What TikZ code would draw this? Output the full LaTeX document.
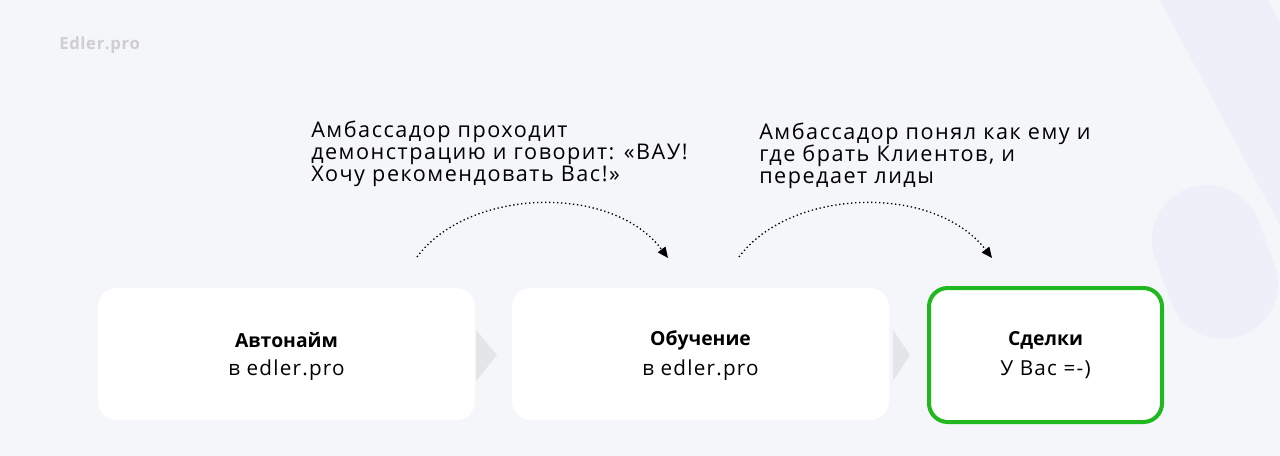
\documentclass[tikz,border=0pt]{standalone}
\usepackage{fontspec}
\setmainfont{Open Sans}
\newfontfamily\notefont[LetterSpace=7]{Open Sans}
\newfontfamily\subfont[LetterSpace=6]{Open Sans}
\newfontfamily\logofont[LetterSpace=4]{Open Sans}
\usetikzlibrary{arrows.meta}
\definecolor{bg}{HTML}{F5F6FA}
\definecolor{deco}{HTML}{EDF0F9}
\definecolor{chev}{HTML}{E4E5E9}
\definecolor{okgreen}{HTML}{1FB81F}
\definecolor{logo}{HTML}{CFCFD2}
\tikzset{
  card/.style={fill=white, rounded corners=14pt, draw=none},
  greencard/.style={fill=white, rounded corners=14pt, draw=okgreen, line width=3pt},
  title/.style={font=\fontsize{14.5}{17}\selectfont\bfseries, align=center},
  sub/.style={font=\subfont\fontsize{15.5}{19}\selectfont, align=center},
  note/.style={font=\notefont\fontsize{16.2}{16.5}\selectfont, align=left, anchor=north west, inner sep=0pt},
  flow/.style={dotted, line width=1pt, -{Triangle[length=8pt,width=7pt]}},
  chevron/.style={fill=chev, draw=none}
}
\begin{document}
\begin{tikzpicture}[x=0.75pt,y=-0.75pt]
\useasboundingbox (0,0) rectangle (1280,456);
\fill[bg] (0,0) rectangle (1280,456);
% decorations
\begin{scope}
\clip (0,0) rectangle (1280,456);
\fill[deco] (1160,0) -- (1268,0) -- (1400,250) -- (1293,250) -- cycle;
\draw[deco, line width=82.5pt, line cap=round] (1207,240) -- (1223,284);
\end{scope}
\node[font=\logofont\fontsize{12.5}{15}\selectfont\bfseries, text=logo, anchor=west, inner sep=0pt] (logo) at (59,45) {Edler.pro};
% cards
\node[card, minimum width=377*0.75pt, minimum height=132*0.75pt] (b1) at (286.5,354) {};
\node[card, minimum width=377*0.75pt, minimum height=132*0.75pt] (b2) at (700.5,354) {};
\node[greencard, minimum width=233*0.75pt, minimum height=134*0.75pt] (b3) at (1045.5,355) {};
\node[title] (t1) at (286.5,340) {Автонайм};
\node[sub] (s1) at (286.5,370) {в edler.pro};
\node[title] (t2) at (700.5,340) {Обучение};
\node[sub] (s2) at (700.5,370) {в edler.pro};
\node[title] (t3) at (1045.5,340) {Сделки};
\node[sub] (s3) at (1045.5,370) {У Вас =-)};
% chevrons
\fill[chevron] (476,330) -- (497,355) -- (476,381) -- cycle;
\fill[chevron] (893,330) -- (910,355) -- (893,381) -- cycle;
% notes
\node[note] (n1) at (311,121) {Амбассадор проходит\\демонстрацию и говорит: «ВАУ!\\Хочу рекомендовать Вас!»};
\node[note] (n2) at (759,123) {Амбассадор понял как ему и\\где брать Клиентов, и\\передает лиды};
% dotted arcs
\coordinate (a1s) at (417,257);
\coordinate (a1e) at (668,258);
\coordinate (a2s) at (739,257);
\coordinate (a2e) at (992,258);
\draw[flow] (a1s) .. controls (468,188) and (612,183) .. (a1e);
\draw[flow] (a2s) .. controls (790,188) and (934,183) .. (a2e);
\end{tikzpicture}
\end{document}
